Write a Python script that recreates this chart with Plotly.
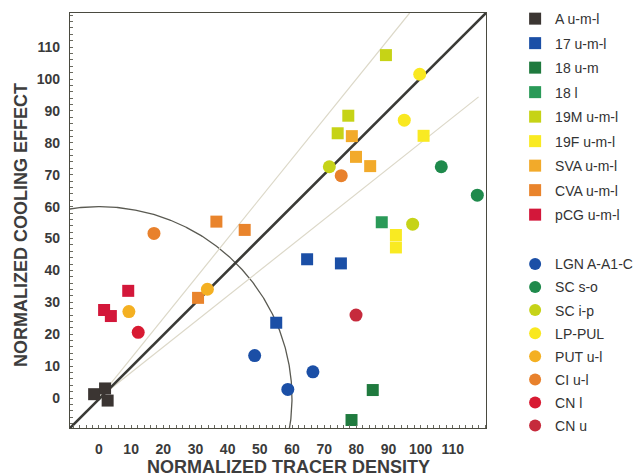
import numpy as np
import plotly.graph_objects as go

# ---------------- data ----------------
sq_names = ["A u-m-l", "17 u-m-l", "18 u-m", "18 l", "19M u-m-l", "19F u-m-l",
            "SVA u-m-l", "CVA u-m-l", "pCG u-m-l"]
sq_colors = ["#3b3532", "#1b4fa6", "#1f7a3e", "#2a9a58", "#c6d316", "#f9ea22",
             "#f2aa2a", "#e9842c", "#d3173a"]
sq_x = [
    [-1.5, 1.9, 2.7],
    [64.7, 75.2, 55.1],
    [85.1, 78.5],
    [87.9],
    [89.2, 77.5, 74.2],
    [92.3, 92.3, 100.9],
    [78.6, 79.9, 84.3],
    [36.5, 45.3, 30.8],
    [9.1, 1.6, 3.7],
]
sq_y = [
    [1.2, 3.0, -0.8],
    [43.5, 42.2, 23.6],
    [2.5, -6.9],
    [55.1],
    [107.5, 88.5, 83.0],
    [51.1, 47.2, 82.2],
    [82.1, 75.6, 72.7],
    [55.3, 52.7, 31.4],
    [33.6, 27.6, 25.7],
]

ci_names = ["LGN A-A1-C", "SC s-o", "SC i-p", "LP-PUL", "PUT u-l", "CI u-l", "CN l", "CN u"]
ci_colors = ["#1b4fa6", "#1f8a4c", "#c6d318", "#f9e820", "#f4b022", "#e8812c", "#d81a32", "#c62a3c"]
ci_x = [
    [48.4, 66.5, 58.7],
    [106.4, 117.6],
    [71.6, 97.5],
    [99.7, 94.9],
    [9.3, 33.7],
    [17.1, 75.3],
    [12.2],
    [79.9],
]
ci_y = [
    [13.3, 8.2, 2.7],
    [72.5, 63.6],
    [72.5, 54.5],
    [101.5, 87.1],
    [27.1, 34.1],
    [51.6, 69.7],
    [20.6],
    [26.0],
]

x_ticks = list(range(0, 111, 10))
y_ticks = list(range(0, 111, 10))
x_range = [-9, 120.3]
y_range = [-9.4, 120.7]
arc_radius = 60
upper_slope = 1.25
lower_slope = 0.8
lower_end_x = 118

# ---------------- figure ----------------
fig = go.Figure()

# reference arc (circle centred at the origin)
arc_t = np.linspace(-0.2, np.pi / 2 + 0.2, 300)
fig.add_trace(go.Scatter(x=arc_radius * np.cos(arc_t), y=arc_radius * np.sin(arc_t),
                         mode="lines", line=dict(color="#5a5a52", width=1.3),
                         showlegend=False, hoverinfo="skip"))
# thin guide lines
fig.add_trace(go.Scatter(x=[0, y_range[1] / upper_slope], y=[0, y_range[1]],
                         mode="lines", line=dict(color="#dcd8c8", width=1.2),
                         showlegend=False, hoverinfo="skip"))
fig.add_trace(go.Scatter(x=[0, lower_end_x], y=[0, lower_end_x * lower_slope],
                         mode="lines", line=dict(color="#dcd8c8", width=1.2),
                         showlegend=False, hoverinfo="skip"))
# identity line
fig.add_trace(go.Scatter(x=[x_range[0], x_range[1]], y=[y_range[0], y_range[1]],
                         mode="lines", line=dict(color="#3a3a36", width=2.6),
                         showlegend=False, hoverinfo="skip"))

for i, (n, c) in enumerate(zip(sq_names, sq_colors)):
    fig.add_trace(go.Scatter(x=sq_x[i], y=sq_y[i], mode="markers", name=n,
                             legendgroup="s%d" % i, legend="legend",
                             marker=dict(symbol="square", size=12, color=c,
                                         line=dict(width=0))))
for i, (n, c) in enumerate(zip(ci_names, ci_colors)):
    fig.add_trace(go.Scatter(x=ci_x[i], y=ci_y[i], mode="markers", name=n,
                             legendgroup="c%d" % i, legend="legend2",
                             marker=dict(symbol="circle", size=13, color=c,
                                         line=dict(width=0))))

font_fam = "Liberation Sans, Arial, Helvetica, sans-serif"
axis_common = dict(showline=True, linecolor="#4a4a40", linewidth=1.2, mirror=True,
                   ticks="", showgrid=False, zeroline=False,
                   tickfont=dict(family=font_fam, size=14, color="#3a3a3a", weight="bold"),
                   minor=dict(ticks="inside", ticklen=3, tickcolor="#6a6a60", dtick=2,
                              tickwidth=1, showgrid=False))

fig.update_layout(
    width=641, height=476,
    margin=dict(l=70, r=155, t=13, b=48, autoexpand=False),
    paper_bgcolor="white", plot_bgcolor="white",
    font=dict(family=font_fam, color="#333333"),
    xaxis=dict(range=x_range, tickvals=x_ticks, ticklabelstandoff=8, **axis_common),
    yaxis=dict(range=y_range, tickvals=y_ticks, ticklabelstandoff=6, **axis_common),
    legend=dict(x=1.07, xanchor="left", y=1.024, yanchor="top", tracegroupgap=3.3,
                font=dict(family=font_fam, size=14, color="#333333"),
                itemsizing="constant", bgcolor="rgba(0,0,0,0)"),
    legend2=dict(x=1.07, xanchor="left", y=0.433, yanchor="top", tracegroupgap=1.9,
                 font=dict(family=font_fam, size=14, color="#333333"),
                 itemsizing="constant", bgcolor="rgba(0,0,0,0)"),
    annotations=[
        dict(text="NORMALIZED TRACER DENSITY", xref="paper", yref="paper",
             x=(288 - 70) / 416, y=-(466.5 - 428) / 415, xanchor="center", yanchor="middle",
             showarrow=False, font=dict(family=font_fam, size=18, color="#3d3d3d", weight="bold")),
        dict(text="NORMALIZED COOLING EFFECT", xref="paper", yref="paper",
             x=-(70 - 21.5) / 416, y=(428 - 225.5) / 415, xanchor="center", yanchor="middle",
             textangle=-90, showarrow=False,
             font=dict(family=font_fam, size=18, color="#3d3d3d", weight="bold")),
    ],
)

fig.write_html("out.html", config={"displayModeBar": False},
               post_script="document.body.style.margin='0';document.body.style.padding='0';")
